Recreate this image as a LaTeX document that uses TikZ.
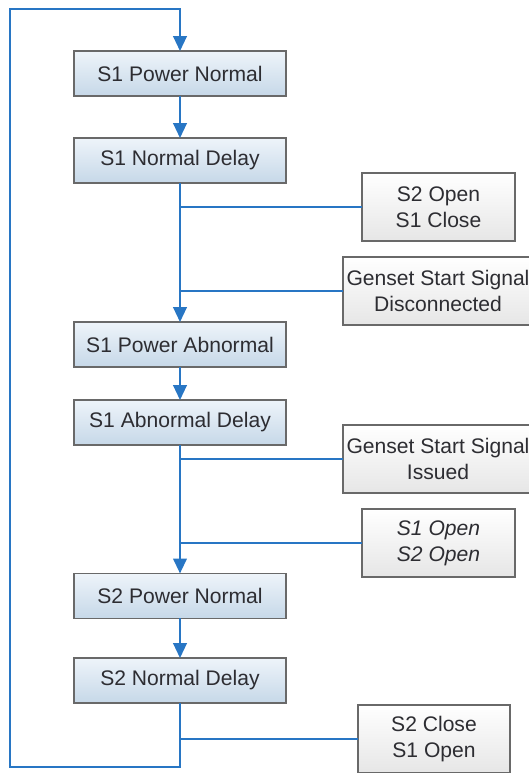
\documentclass[tikz,border=0pt]{standalone}
\usepackage{fontspec}
\setmainfont{Liberation Sans}
\usepackage{tikz}
\usetikzlibrary{positioning, arrows.meta}
\definecolor{flow}{RGB}{40,118,196}
\definecolor{edge}{RGB}{105,105,105}
\definecolor{ink}{RGB}{45,45,50}
\definecolor{paletop}{RGB}{238,244,250}
\definecolor{palebot}{RGB}{198,216,232}
\definecolor{greybot}{RGB}{230,230,230}
\tikzset{
  state/.style={draw=edge,line width=0.4mm,top color=paletop,bottom color=palebot,
    minimum width=53mm,minimum height=11.25mm,inner sep=2pt,outer sep=0pt,
    font=\fontsize{15}{18.5}\selectfont,text=ink},
  action/.style={draw=edge,line width=0.35mm,top color=white,bottom color=greybot,
    minimum height=17mm,inner sep=2pt,outer sep=0pt,align=center,
    font=\fontsize{15}{18.5}\selectfont,text=ink},
  arr/.style={-{Triangle[width=3.4mm,length=3.7mm]},line width=0.45mm,draw=flow},
  link/.style={line width=0.45mm,draw=flow},
}

\begin{document}
\begin{tikzpicture}[x=0.25mm,y=-0.25mm]
  \useasboundingbox (0,0) rectangle (528,773);
  % main column of states
  \node[state] (pn1) at (180,73.5) {S1 Power Normal};
  \node[state,below=10.5mm of pn1] (nd1) {S1 Normal Delay};
  \node[state,below=34.75mm of nd1] (pa1) {S1 Power Abnormal};
  \node[state,below=8.25mm of pa1] (ad1) {S1 Abnormal Delay};
  \node[state,below=32.1mm of ad1] (pn2) {S2 Power Normal};
  \node[state,below=9.9mm of pn2] (nd2) {S2 Normal Delay};
  % actions on the right
  \node[action,minimum width=38.25mm] (act1) at (438.5,207) {S2 Open\\S1 Close};
  \node[action,minimum width=47.5mm] (act2) at (438,291) {Genset Start Signal\\Disconnected};
  \node[action,minimum width=47.5mm] (act3) at (438,459) {Genset Start Signal\\Issued};
  \node[action,minimum width=38.25mm,font=\fontsize{15}{18.5}\selectfont\itshape]
    (act4) at (438.5,543) {S1 Open\\S2 Open};
  \node[action,minimum width=38mm] (act5) at (434,739) {S2 Close\\S1 Open};
  % loop corners
  \coordinate (lowleft) at (10,767);
  \coordinate (topleft) at (10,9);
  \draw[arr] (pn1) -- (nd1);
  \draw[arr] (nd1) -- (pa1);
  \draw[arr] (pa1) -- (ad1);
  \draw[arr] (ad1) -- (pn2);
  \draw[arr] (pn2) -- (nd2);
  \draw[arr] (nd2.south) |- (lowleft) -- (topleft) -| (pn1.north);
  \draw[link] (act1.west) -- (act1.west -| nd1.south);
  \draw[link] (act2.west) -- (act2.west -| nd1.south);
  \draw[link] (act3.west) -- (act3.west -| ad1.south);
  \draw[link] (act4.west) -- (act4.west -| ad1.south);
  \draw[link] (act5.west) -- (act5.west -| nd2.south);
\end{tikzpicture}
\end{document}
